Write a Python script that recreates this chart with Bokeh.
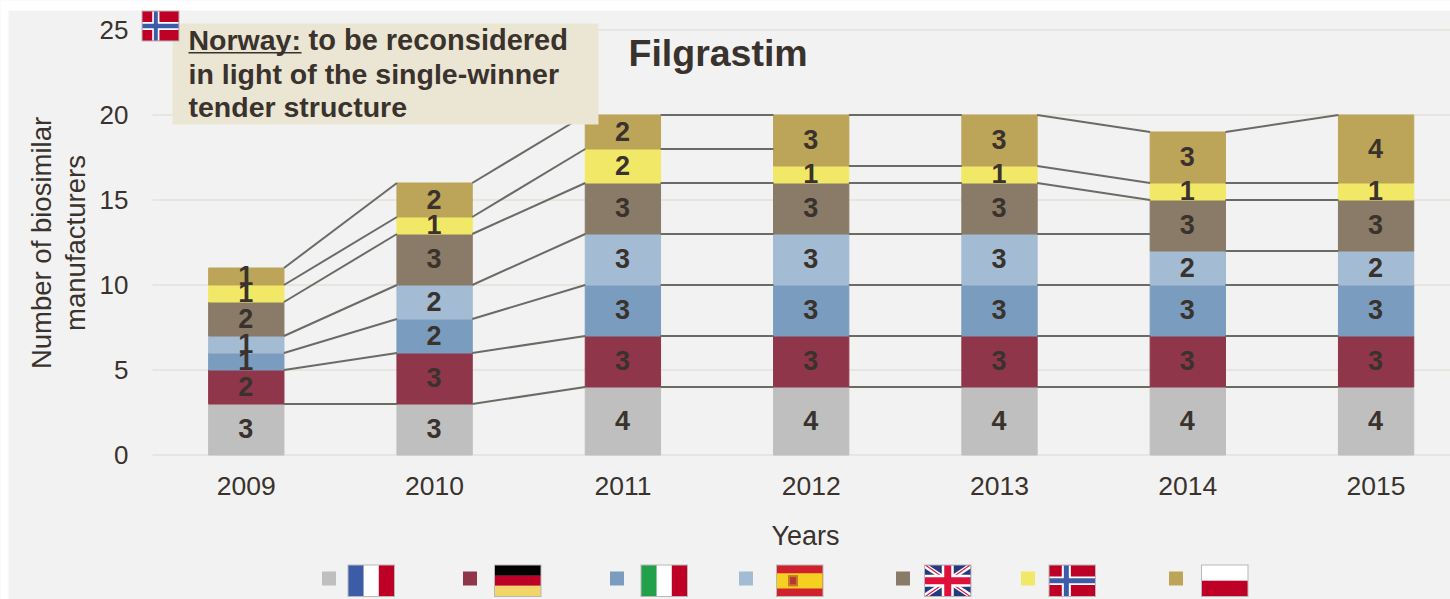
from bokeh.plotting import figure
from bokeh.models import (ColumnDataSource, FixedTicker, Range1d, Label, BoxAnnotation, PolyAnnotation, LinearAxis)
from bokeh.core.properties import value
from bokeh.embed import file_html
from bokeh.resources import INLINE

years = ["2009", "2010", "2011", "2012", "2013", "2014", "2015"]
france = [3, 3, 4, 4, 4, 4, 4]
germany = [2, 3, 3, 3, 3, 3, 3]
italy = [1, 2, 3, 3, 3, 3, 3]
spain = [1, 2, 3, 3, 3, 2, 2]
uk = [2, 3, 3, 3, 3, 3, 3]
norway = [1, 1, 2, 1, 1, 1, 1]
poland = [1, 2, 2, 3, 3, 3, 4]
series = [france, germany, italy, spain, uk, norway, poland]
colors = ["#bfbfbf", "#90364a", "#7a9cbf", "#a3bbd3", "#8a7a68", "#f2e868", "#bca559"]
y_ticks = [0, 5, 10, 15, 20, 25]
# the connector lines that, in the source chart, do not land on the next bar's top:
# (series index, index of the year the line ends at) -> height
connector_end = {(5, 3): 18, (3, 5): 13}

INK = "#3a322c"
BG = "#f2f2f2"
FONT = "Liberation Sans"
W, H = 1450, 599
X0_PX, STEP_PX = 245.8, 188.3   # pixel of the first category, pixels per category
Y0_PX, UNIT_PX = 454.5, 17.0    # pixel of y=0, pixels per unit
AXIS_PX = 152

x_of = lambda px: (px - X0_PX) / STEP_PX
y_of = lambda py: (Y0_PX - py) / UNIT_PX

p = figure(width=W, height=H, output_backend="svg", toolbar_location=None,
           x_axis_type=None, y_axis_type=None,
           x_range=Range1d(x_of(0), x_of(W)), y_range=Range1d(y_of(H), y_of(0)),
           min_border_left=0, min_border_right=0, min_border_top=0, min_border_bottom=0,
           background_fill_color=BG, border_fill_color=BG, outline_line_color=None)
p.grid.visible = False

yax = LinearAxis(fixed_location=x_of(AXIS_PX), ticker=FixedTicker(ticks=y_ticks))
yax.axis_line_color = None
yax.major_tick_line_color = None
yax.minor_tick_line_color = None
yax.major_label_standoff = 18
yax.major_label_text_font = FONT
yax.major_label_text_font_size = "26px"
yax.major_label_text_color = INK
p.add_layout(yax, "left")

xax = LinearAxis(fixed_location=0, ticker=FixedTicker(ticks=list(range(len(years)))))
xax.major_label_overrides = {i: y for i, y in enumerate(years)}
xax.axis_line_color = None
xax.major_tick_line_color = None
xax.minor_tick_line_color = None
xax.major_label_standoff = 16
xax.major_label_text_font = FONT
xax.major_label_text_font_size = "26.5px"
xax.major_label_text_color = INK
p.add_layout(xax, "below")

# horizontal gridlines, from the axis to the right edge
p.segment(x0=[x_of(AXIS_PX)] * len(y_ticks), x1=[x_of(W)] * len(y_ticks), y0=y_ticks, y1=y_ticks,
          line_color="#e8e4e0", line_width=2, level="underlay")

BAR_W = 0.40
n = len(years)
xs = list(range(n))
bottoms = [0] * n
seg = dict(x0=[], x1=[], y0=[], y1=[])
lab = dict(x=[], y=[], t=[])
for k, (vals, col) in enumerate(zip(series, colors)):
    tops = [b + v for b, v in zip(bottoms, vals)]
    src = ColumnDataSource(dict(x=xs, b=bottoms, t=tops))
    p.vbar(x="x", bottom="b", top="t", width=BAR_W, color=col, source=src)
    for i in range(n - 1):
        seg["x0"].append(i + BAR_W / 2)
        seg["x1"].append(i + 1 - BAR_W / 2)
        seg["y0"].append(tops[i])
        seg["y1"].append(connector_end.get((k, i + 1), tops[i + 1]))
    for i in range(n):
        lab["x"].append(i)
        lab["y"].append((bottoms[i] + tops[i]) / 2)
        lab["t"].append(str(vals[i]))
    bottoms = tops

p.segment(x0="x0", y0="y0", x1="x1", y1="y1", source=ColumnDataSource(seg),
          line_color="#6b6b66", line_width=2)
p.text(x="x", y="y", text="t", source=ColumnDataSource(lab), text_align="center",
       text_baseline="middle", text_font=value(FONT), text_font_style="bold",
       text_font_size="27px", text_color=INK, x_offset=-0.5, y_offset=-1)


def box(l, t, r, b, color):
    p.add_layout(BoxAnnotation(left=l, right=r, top=t, bottom=b,
                               left_units="canvas", right_units="canvas",
                               top_units="canvas", bottom_units="canvas",
                               fill_color=color, fill_alpha=1, line_alpha=0, line_width=0))


def poly(px, py, color):
    p.add_layout(PolyAnnotation(xs=list(px), ys=list(py),
                                xs_units="canvas", ys_units="canvas",
                                fill_color=color, fill_alpha=1, line_alpha=0, line_width=0))


def text(x, y, s, size, style="normal", align="left", angle=0):
    p.add_layout(Label(x=x, y=y, x_units="canvas", y_units="canvas", text=s,
                       text_font=FONT, text_font_size=size, text_font_style=style, angle=angle,
                       text_color=INK, text_align=align, text_baseline="middle"))


RED = "#bf0026"
BLUE = "#3c5ca8"


def frame(l, t, r, b):
    box(l, t, r, b, "#b8b8b8")
    return l + 1, t + 1, r - 1, b - 1


def fr(l, t, r, b):
    l, t, r, b = frame(l, t, r, b)
    w = (r - l) / 3
    box(l, t, l + w, b, BLUE); box(l + w, t, l + 2 * w, b, "#ffffff"); box(l + 2 * w, t, r, b, RED)


def de(l, t, r, b):
    l, t, r, b = frame(l, t, r, b)
    h = (b - t) / 3
    box(l, t, r, t + h, "#000000"); box(l, t + h, r, t + 2 * h, RED); box(l, t + 2 * h, r, b, "#f2d56a")


def it(l, t, r, b):
    l, t, r, b = frame(l, t, r, b)
    w = (r - l) / 3
    box(l, t, l + w, b, "#23a04a"); box(l + w, t, l + 2 * w, b, "#ffffff"); box(l + 2 * w, t, r, b, RED)


def es(l, t, r, b):
    l, t, r, b = frame(l, t, r, b)
    h = (b - t) / 4
    box(l, t, r, b, "#d0202e"); box(l, t + h, r, b - h, "#f5d020")
    box(l + 11, t + h + 2, l + 21, b - h - 2, "#c8752e")
    box(l + 13, t + h + 4, l + 19, b - h - 4, "#b5392e")


def gb(l, t, r, b):
    l, t, r, b = frame(l, t, r, b)
    box(l, t, r, b, "#25397f")
    d = 4
    poly([l, l + d, r, r, r - d, l], [t, t, b - 3, b, b, t + 3], "#ffffff")
    poly([r, r - d, l, l, l + d, r], [t, t, b - 3, b, b, t + 3], "#ffffff")
    poly([l, l + 2, r, r - 2], [t, t, b, b], "#e0103c")
    poly([r, r - 2, l, l + 2], [t, t, b, b], "#e0103c")
    cx, cy = (l + r) / 2, (t + b) / 2
    box(cx - 6, t, cx + 6, b, "#ffffff"); box(l, cy - 6, r, cy + 6, "#ffffff")
    box(cx - 3.5, t, cx + 3.5, b, "#e0103c"); box(l, cy - 3.5, r, cy + 3.5, "#e0103c")


def no(l, t, r, b):
    l, t, r, b = frame(l, t, r, b)
    w, h = r - l, b - t
    box(l, t, r, b, RED)
    cx, cy = l + 0.37 * w, t + 0.5 * h
    box(cx - 0.1 * w, t, cx + 0.1 * w, b, "#ffffff"); box(l, cy - 0.14 * h, r, cy + 0.14 * h, "#ffffff")
    box(cx - 0.055 * w, t, cx + 0.055 * w, b, BLUE); box(l, cy - 0.08 * h, r, cy + 0.08 * h, BLUE)


def pl(l, t, r, b):
    l, t, r, b = frame(l, t, r, b)
    box(l, t, r, (t + b) / 2, "#ffffff"); box(l, (t + b) / 2, r, b, RED)


# white strips at the top and left of the grey panel
box(0, 0, W, 10, "#ffffff")
box(0, 0, 8, H, "#ffffff")

# axis titles
text(41, 242.5, "Number of biosimilar", "27.5px", align="center", angle=1.5708)
text(75, 242.5, "manufacturers", "27.5px", align="center", angle=1.5708)
text(805, 535, "Years", "27px", align="center")

# legend swatches and flags
swatch_left = [322, 463, 610, 739, 896, 1021, 1169]
flag_left = [347, 493.5, 640, 775.5, 923.5, 1048, 1200.5]
flags = [fr, de, it, es, gb, no, pl]
for sx, fx, col, fl in zip(swatch_left, flag_left, colors, flags):
    box(sx - 0.5, 571, sx + 13.5, 585, col)
    fl(fx, 564, fx + 47.5, 596.5)

# title, note, norway flag
text(628, 52.5, "Filgrastim", "37.5px", "bold")
box(172, 23, 598, 124, "#ebe5d3")
no(141, 10, 179, 41)
text(188, 39.5, "Norway:", "28.5px", "bold")
box(188, 51.5, 301, 53, INK)
text(308, 39.5, "to be reconsidered", "29px", "bold")
text(188, 73.5, "in light of the single-winner", "28.5px", "bold")
text(188, 106.5, "tender structure", "28.5px", "bold")

open("out.html", "w").write(file_html(p, INLINE))
